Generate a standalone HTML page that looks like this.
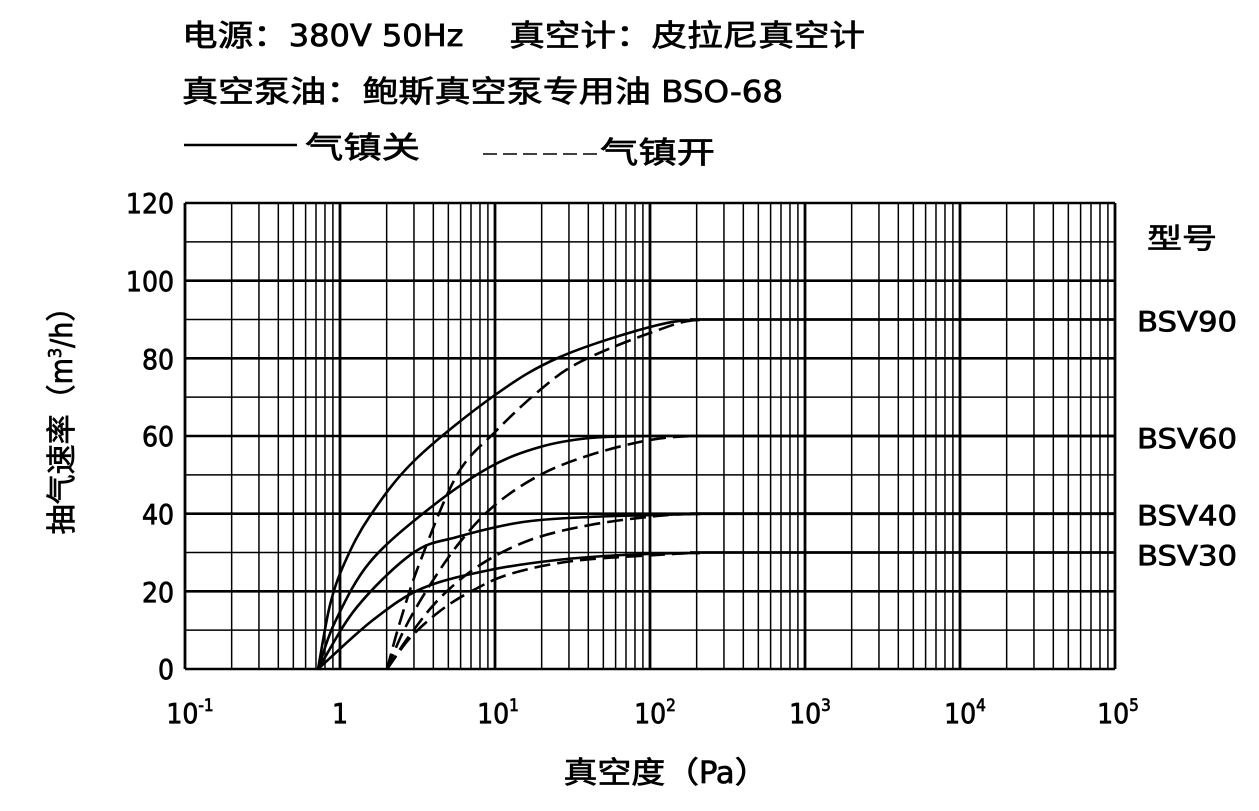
<!DOCTYPE html>
<html><head><meta charset="utf-8"><style>
html,body{margin:0;padding:0;background:#fff;}
svg{display:block;}
text{font-family:"DejaVu Sans Condensed","DejaVu Sans","Noto Sans CJK SC",sans-serif;fill:#000;stroke:#000;stroke-width:0.7;font-weight:normal;}
</style></head><body>
<svg id="s" width="1259" height="811" viewBox="0 0 1259 811" xmlns="http://www.w3.org/2000/svg">
<g font-size="30">
<text x="182" y="46" textLength="683" lengthAdjust="spacingAndGlyphs">电源：380V 50Hz　 真空计：皮拉尼真空计</text>
<text x="182" y="102" textLength="601" lengthAdjust="spacingAndGlyphs">真空泵油：鲍斯真空泵专用油 BSO-68</text>
<line x1="184" y1="145" x2="297" y2="145" stroke="#000" stroke-width="2.5"/>
<text x="305" y="158" textLength="115" lengthAdjust="spacingAndGlyphs">气镇关</text>
<line x1="483" y1="154" x2="597" y2="154" stroke="#000" stroke-width="1.6" stroke-dasharray="14,6"/>
<text x="600" y="163" textLength="115" lengthAdjust="spacingAndGlyphs">气镇开</text>
</g>
<g id="grid"></g>
<g id="curves" fill="none" stroke="#000" stroke-width="2.6"></g>
<g font-size="28" text-anchor="end">
<text x="174" y="213">120</text><text x="174" y="291">100</text><text x="174" y="369">80</text>
<text x="174" y="446">60</text><text x="174" y="524">40</text><text x="174" y="602">20</text><text x="174" y="679">0</text>
</g>
<g font-size="28" text-anchor="middle">
<text x="190" y="723">10<tspan font-size="17" dy="-12">-1</tspan></text>
<text x="340" y="723">1</text>
<text x="498" y="723">10<tspan font-size="17" dy="-12">1</tspan></text>
<text x="655" y="723">10<tspan font-size="17" dy="-12">2</tspan></text>
<text x="810" y="723">10<tspan font-size="17" dy="-12">3</tspan></text>
<text x="965" y="723">10<tspan font-size="17" dy="-12">4</tspan></text>
<text x="1118" y="723">10<tspan font-size="17" dy="-12">5</tspan></text>
<text x="666" y="783" font-size="30" textLength="205" lengthAdjust="spacingAndGlyphs">真空度（Pa）</text>
<text transform="translate(72,413) rotate(-90)" font-size="30">抽气速率（m<tspan font-size="18" dy="-11">3</tspan><tspan dy="11">/h）</tspan></text>
</g>
<g font-size="28">
<text x="1147" y="248" textLength="70" lengthAdjust="spacingAndGlyphs">型号</text>
<text x="1137" y="331" textLength="100" lengthAdjust="spacingAndGlyphs">BSV90</text>
<text x="1137" y="448" textLength="100" lengthAdjust="spacingAndGlyphs">BSV60</text>
<text x="1137" y="525" textLength="100" lengthAdjust="spacingAndGlyphs">BSV40</text>
<text x="1137" y="565" textLength="100" lengthAdjust="spacingAndGlyphs">BSV30</text>
</g>
</svg>
<script>
var NS="http://www.w3.org/2000/svg";
var g=document.getElementById('grid'),c=document.getElementById('curves');
function L(x1,y1,x2,y2,w,p){var l=document.createElementNS(NS,'line');l.setAttribute('x1',x1);l.setAttribute('y1',y1);l.setAttribute('x2',x2);l.setAttribute('y2',y2);l.setAttribute('stroke','#000');l.setAttribute('stroke-width',w);(p||g).appendChild(l);}
var X0=185,X1=1115,Y0=203,Y1=669,D=(X1-X0)/6,U=(Y1-Y0)/120;
for(var d=0;d<6;d++){for(var k=2;k<10;k++){var x=X0+D*d+D*Math.log10(k);L(x,Y0,x,Y1,1.5);}}
for(var v=0;v<=120;v+=10){var y=Y1-v*U;L(X0,y,X1,y,v%20==0?2.6:1.5);}
for(var d=0;d<=6;d++){var x=X0+D*d;L(x,Y0,x,Y1,2.8);}
function P(pts,dash){var p=document.createElementNS(NS,'path');var s='M'+pts[0][0]+','+pts[0][1];
for(var i=1;i<pts.length;i++){var a=pts[i-1],b=pts[i];var m0=i>1?[(b[0]-pts[i-2][0])/2,(b[1]-pts[i-2][1])/2]:[b[0]-a[0],b[1]-a[1]];var n=pts[i+1];var m1=n?[(n[0]-a[0])/2,(n[1]-a[1])/2]:[b[0]-a[0],0];
s+=' C'+(a[0]+m0[0]/3)+','+(a[1]+m0[1]/3)+' '+(b[0]-m1[0]/3)+','+(b[1]-m1[1]/3)+' '+b[0]+','+b[1];}
p.setAttribute('d',s);if(dash)p.setAttribute('stroke-dasharray','16,7');c.appendChild(p);}
P([[318,669],[330,605],[345,562],[370,516],[415,460],[495,395],[560,357],[650,327],[700,320]]);
P([[387,669],[400,622],[420,562],[457,475],[495,432],[540,390],[580,362],[650,333],[700,320]],1);
P([[318,669],[335,622],[370,562],[430,508],[490,467],[540,447],[590,438],[650,436],[690,436]]);
P([[387,669],[405,628],[430,585],[460,542],[495,505],[540,475],[590,455],[650,440],[700,436]],1);
P([[318,669],[357,607],[413,553],[457,537],[523,522],[590,517],[657,515],[700,514]]);
P([[387,669],[410,635],[440,598],[480,565],[530,540],[590,525],[657,516],[700,514]],1);
P([[318,669],[373,620],[423,588],[490,570],[557,560],[623,555],[700,553]]);
P([[387,669],[410,638],[440,611],[470,592],[510,574],[573,561],[657,555],[700,553]],1);
[90,60,40,30].forEach(function(v){L(690,Y1-v*U,X1,Y1-v*U,2.8,c);});
</script>
</body></html>
